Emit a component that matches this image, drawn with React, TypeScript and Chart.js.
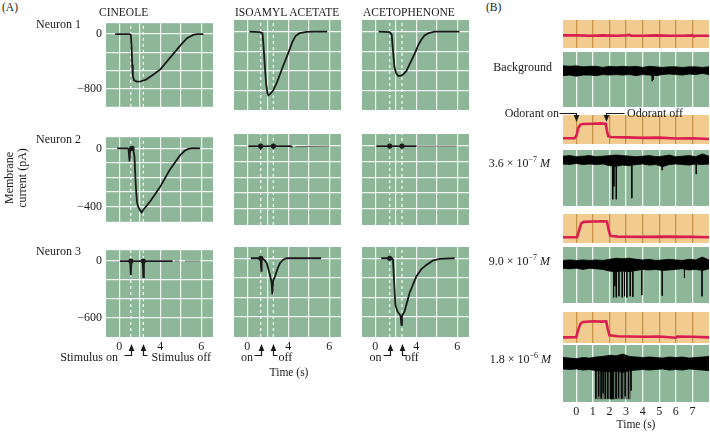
import React, { useEffect, useRef } from "react";
import { Chart, registerables } from "chart.js";

Chart.register(...registerables);

const FONT = "'Liberation Serif', 'Times New Roman', serif";
const GREEN = "#8eb799";
const ORANGE = "#f2cb91";
const RED = "#d81f50";
const INK = "#1a1a1a";
const GRID_W = "rgba(255,255,255,0.85)";
const GRID_O = "#c9944a";

// ---------------- Panel A data (x in grid units, y in pA) ----------------
const ODORANTS = ["CINEOLE", "ISOAMYL ACETATE", "ACETOPHENONE"];
const NEURONS = ["Neuron 1", "Neuron 2", "Neuron 3"];
const A_X_GRID = [0, 1, 2, 3, 4];
const A_X_LABELS = ["0", "", "4", "", "6"];
const A_X_MIN = -0.65;
const A_X_MAX = 4.57;
const A_Y_GRID_N1 = [-800, -533.3, -266.7, 0];
const A_Y_LABELS_N1 = ["−800", "", "", "0"];
const A_Y_GRID_N2 = [-400, -300, -200, -100, 0];
const A_Y_LABELS_N2 = ["−400", "", "", "", "0"];
const A_Y_GRID_N3 = [-600, -400, -200, 0];
const A_Y_LABELS_N3 = ["−600", "", "", "0"];
const A_Y_RANGE = [
  [-1070, 160],
  [-505, 77],
  [-805, 115],
];
const STIM_ON = [0.56, 0.65, 0.7];
const STIM_OFF = [1.17, 1.27, 1.3];

type P = [number, number | null];

const CIN_N1: P[] = [[-0.2, 0], [0.5, 0], [0.56, -10], [0.6, -200], [0.63, -450], [0.66, -620], [0.72, -680], [0.85, -700], [1.05, -695], [1.3, -670], [1.6, -610], [2.0, -520], [2.5, -340], [3.0, -160], [3.3, -60], [3.6, -12], [3.8, 0], [4.1, 0]];
const ISO_N1: P[] = [[0.1, 0], [0.6, -5], [0.74, -20], [0.78, -150], [0.85, -450], [0.92, -720], [0.98, -840], [1.03, -870], [1.12, -850], [1.27, -800], [1.45, -690], [1.68, -516], [2.0, -290], [2.2, -140], [2.35, -60], [2.55, -20], [2.9, -3], [3.3, 0], [3.9, 0]];
const ACE_N1: P[] = [[0.16, 0], [0.7, -5], [0.8, -40], [0.86, -250], [0.93, -480], [1.02, -570], [1.12, -605], [1.25, -600], [1.35, -585], [1.51, -540], [1.7, -430], [1.92, -300], [2.1, -180], [2.24, -110], [2.4, -50], [2.6, -20], [2.9, 0], [4.1, 0]];
const CIN_N2: P[] = [[-0.1, 0], [0.4, 0], [0.45, -5], [0.5, -90], [0.53, 0], [0.6, -8], [0.68, -5], [0.74, -60], [0.8, -250], [0.86, -370], [0.93, -405], [1.03, -430], [1.09, -440], [1.15, -425], [1.3, -400], [1.5, -365], [2.0, -262], [2.47, -145], [2.96, -48], [3.2, -15], [3.37, -3], [3.6, 2], [3.94, 0]];
const ISO_N2: P[] = [[0.05, 0], [0.6, 0], [0.65, -15], [0.7, 0], [1.22, 0], [1.27, -12], [1.32, 0], [2.1, 0], [2.2, -5]];
const ACE_N2: P[] = [[0.05, 0], [0.7, 0], [1.3, 0], [2.0, 0]];
const CIN_N3: P[] = [[0.03, 0], [0.53, 0], [0.56, -150], [0.59, 0], [1.14, 0], [1.17, -170], [1.2, 0], [2.6, 0]];
const ISO_N3: P[] = [[0.17, 0], [0.6, 0], [0.65, -5], [0.68, -130], [0.7, -5], [0.8, -10], [0.95, -50], [1.1, -170], [1.18, -240], [1.22, -370], [1.26, -230], [1.35, -185], [1.47, -110], [1.59, -50], [1.75, -15], [1.91, 0], [3.6, 0]];
const ACE_N3: P[] = [[0.29, 0], [0.8, 0], [0.86, -15], [0.92, -250], [0.98, -480], [1.08, -545], [1.19, -575], [1.24, -600], [1.27, -680], [1.3, -590], [1.43, -540], [1.67, -355], [2.0, -187], [2.25, -110], [2.49, -68], [2.8, -25], [3.14, -7], [3.87, 0]];

const ISO_N2_FAINT: P[] = [[2.35, -5], [3.0, -2], [4.0, 0]];
const ACE_N2_FAINT: P[] = [[2.0, 0], [3.96, 0]];
const CIN_N3_FAINT: P[] = [[2.7, 0], [2.92, 0], [2.93, null], [3.2, 0], [3.94, 0]];

const CIN_N2_BLOBS: P[] = [[0.62, 0]];
const ISO_N2_BLOBS: P[] = [[0.65, 0], [1.27, 0]];
const ACE_N2_BLOBS: P[] = [[0.7, 0], [1.3, 0]];
const CIN_N3_BLOBS: P[] = [[0.56, 0], [1.17, 0]];
const ISO_N3_BLOBS: P[] = [[0.66, 0]];
const ACE_N3_BLOBS: P[] = [[0.7, 0]];

const A_TRACES = [[CIN_N1, ISO_N1, ACE_N1], [CIN_N2, ISO_N2, ACE_N2], [CIN_N3, ISO_N3, ACE_N3]];
const A_FAINT = [[[], [], []], [[], ISO_N2_FAINT, ACE_N2_FAINT], [CIN_N3_FAINT, [], []]];
const A_BLOBS = [[[], [], []], [CIN_N2_BLOBS, ISO_N2_BLOBS, ACE_N2_BLOBS], [CIN_N3_BLOBS, ISO_N3_BLOBS, ACE_N3_BLOBS]];
const A_Y_GRIDS = [A_Y_GRID_N1, A_Y_GRID_N2, A_Y_GRID_N3];
const A_Y_LABELS = [A_Y_LABELS_N1, A_Y_LABELS_N2, A_Y_LABELS_N3];

// ---------------- Panel B data (x in s, y in relative units 0..1) ----------------
const B_X_GRID = [0, 1, 2, 3, 4, 5, 6, 7];
const B_X_LABELS = ["0", "1", "2", "3", "4", "5", "6", "7"];
const B_X_MIN = -0.8;
const B_X_MAX = 8.0;
const ODOR_ON = 0;
const ODOR_OFF = 1.8;
const CONCENTRATIONS = ["Background", "3.6", "9.0", "1.8"];

const RED_NONE: P[] = [[-0.8, 0.45], [0, 0.45], [0.8, 0.44], [1.6, 0.45], [2.4, 0.44], [3.0, 0.45], [3.2, 0.47], [3.3, 0.44], [4.0, 0.44], [4.8, 0.45], [5.6, 0.44], [6.4, 0.44], [7.0, 0.45], [7.1, 0.42], [7.2, 0.44], [8.0, 0.44]];
const RED_36: P[] = [[-0.8, 0.2], [-0.1, 0.2], [0.02, 0.3], [0.12, 0.55], [0.25, 0.67], [0.4, 0.69], [1.0, 0.7], [1.5, 0.71], [1.78, 0.69], [1.85, 0.45], [1.93, 0.27], [2.1, 0.24], [3.0, 0.23], [4.0, 0.21], [5.0, 0.22], [6.0, 0.19], [7.0, 0.2], [8.0, 0.17]];
const RED_90: P[] = [[-0.8, 0.2], [0.05, 0.2], [0.15, 0.4], [0.3, 0.68], [0.45, 0.73], [1.0, 0.74], [1.6, 0.75], [1.85, 0.74], [1.95, 0.45], [2.05, 0.25], [2.5, 0.22], [4.0, 0.21], [5.5, 0.22], [7.0, 0.21], [8.0, 0.2]];
const RED_18: P[] = [[-0.8, 0.18], [0.0, 0.19], [0.1, 0.4], [0.25, 0.62], [0.4, 0.68], [1.0, 0.7], [1.5, 0.69], [1.8, 0.7], [1.9, 0.45], [2.0, 0.25], [2.5, 0.22], [4.0, 0.2], [5.0, 0.21], [6.0, 0.17], [6.1, 0.21], [7.0, 0.2], [8.0, 0.18]];

const BAND_T = [-0.8, -0.4, 0, 0.4, 0.8, 1.2, 1.6, 2.0, 2.4, 2.8, 3.2, 3.6, 4.0, 4.4, 4.8, 5.2, 5.6, 6.0, 6.4, 6.8, 7.2, 7.6, 8.0];
const BG_UP = [0.75, 0.74, 0.75, 0.73, 0.74, 0.74, 0.72, 0.74, 0.73, 0.74, 0.73, 0.74, 0.72, 0.74, 0.73, 0.72, 0.73, 0.73, 0.72, 0.73, 0.73, 0.72, 0.73];
const BG_LO = [0.57, 0.58, 0.56, 0.58, 0.58, 0.57, 0.59, 0.58, 0.59, 0.58, 0.59, 0.57, 0.59, 0.58, 0.57, 0.59, 0.6, 0.59, 0.58, 0.6, 0.59, 0.61, 0.59];
const S36_UP = [0.89, 0.9, 0.88, 0.89, 0.9, 0.88, 0.89, 0.9, 0.91, 0.9, 0.89, 0.88, 0.89, 0.9, 0.88, 0.89, 0.91, 0.88, 0.89, 0.9, 0.88, 0.93, 0.89];
const S36_LO = [0.75, 0.74, 0.76, 0.74, 0.75, 0.74, 0.75, 0.72, 0.71, 0.73, 0.72, 0.74, 0.75, 0.73, 0.74, 0.7, 0.74, 0.75, 0.74, 0.73, 0.75, 0.74, 0.75];
const S90_UP = [0.76, 0.77, 0.76, 0.77, 0.76, 0.77, 0.76, 0.78, 0.8, 0.79, 0.8, 0.78, 0.77, 0.78, 0.76, 0.77, 0.78, 0.77, 0.76, 0.78, 0.77, 0.82, 0.77];
const S90_LO = [0.62, 0.61, 0.62, 0.6, 0.62, 0.61, 0.6, 0.57, 0.56, 0.57, 0.56, 0.58, 0.6, 0.59, 0.6, 0.58, 0.59, 0.6, 0.61, 0.59, 0.6, 0.58, 0.61];
const S18_UP = [0.78, 0.77, 0.76, 0.78, 0.77, 0.79, 0.8, 0.82, 0.81, 0.84, 0.8, 0.79, 0.78, 0.79, 0.78, 0.77, 0.79, 0.78, 0.79, 0.77, 0.78, 0.79, 0.8];
const S18_LO = [0.58, 0.57, 0.58, 0.56, 0.57, 0.55, 0.54, 0.53, 0.54, 0.52, 0.55, 0.56, 0.57, 0.56, 0.57, 0.58, 0.56, 0.57, 0.56, 0.58, 0.57, 0.56, 0.55];

const BG_SPIKES: P[] = [[4.58, 0.47], [4.63, 0.5]];
const S36_SPIKES: P[] = [[2.2, 0.12], [2.27, 0.35], [2.41, 0.12], [3.35, 0.14], [5.18, 0.64], [7.23, 0.57]];
const S90_SPIKES: P[] = [[2.25, 0.1], [2.33, 0.3], [2.41, 0.1], [2.57, 0.12], [2.77, 0.1], [2.91, 0.12], [3.05, 0.1], [3.25, 0.12], [3.41, 0.11], [3.95, 0.14], [5.18, 0.13], [6.52, 0.45], [7.58, 0.12]];
const S18_SPIKES: P[] = [[1.18, 0.06], [1.35, 0.1], [1.5, 0.06], [1.62, 0.15], [1.75, 0.06], [1.9, 0.06], [2.4, 0.06], [2.55, 0.08], [2.75, 0.06], [2.95, 0.1], [3.15, 0.06], [3.3, 0.2]];
const S18_BURST = [1.15, 3.3];
const S18_BLOCK = [2.0, 2.27];
const S18_BURST_BOTTOM = 0.05;

const B_RED = [RED_NONE, RED_36, RED_90, RED_18];
const B_UP = [BG_UP, S36_UP, S90_UP, S18_UP];
const B_LO = [BG_LO, S36_LO, S90_LO, S18_LO];
const B_SPIKES = [BG_SPIKES, S36_SPIKES, S90_SPIKES, S18_SPIKES];

// ---------------- Layout ----------------
const PAD = 8;
const A_COL_X = [106, 234, 362];
const A_PLOT_W = 107;
const A_ROW_Y = [20, 134, 247];
const A_PLOT_H = [90, 91, 90];
const B_X = 563;
const B_W = 146;
const B_ORANGE = [
  { top: 20, h: 28 },
  { top: 115, h: 29 },
  { top: 214, h: 29 },
  { top: 312, h: 31 },
];
const B_GREEN = [
  { top: 52, h: 55 },
  { top: 150, h: 56 },
  { top: 247, h: 56 },
  { top: 345, h: 57 },
];

const toXY = (a: P[]) => a.map(([x, y]) => ({ x, y }));

const bgPlugin = (color: string) => ({
  id: "plotBg",
  beforeDraw(chart: any) {
    const { ctx, chartArea: a } = chart;
    ctx.save();
    ctx.fillStyle = color;
    ctx.fillRect(a.left, a.top, a.right - a.left, a.bottom - a.top);
    ctx.restore();
  },
});

function arrowHead(ctx: CanvasRenderingContext2D, x: number, tipY: number, dir: number) {
  // dir = -1: points up, 1: points down
  ctx.beginPath();
  ctx.moveTo(x, tipY);
  ctx.lineTo(x - 2.8, tipY - dir * 7);
  ctx.lineTo(x + 2.8, tipY - dir * 7);
  ctx.closePath();
  ctx.fill();
}

const stimArrows = (on: number, off: number) => ({
  id: "stimArrows",
  afterDraw(chart: any) {
    const { ctx, chartArea: a, scales } = chart;
    const x = scales.x;
    ctx.save();
    ctx.strokeStyle = INK;
    ctx.fillStyle = INK;
    ctx.lineWidth = 1.2;
    const draw = (t: number, dir: number, len: number) => {
      const px = Math.round(x.getPixelForValue(t)) + 0.5;
      const tip = a.bottom + 7;
      const base = a.bottom + 18.5;
      ctx.beginPath();
      ctx.moveTo(px, tip + 5);
      ctx.lineTo(px, base);
      ctx.lineTo(px + dir * len, base);
      ctx.stroke();
      arrowHead(ctx, px, tip, -1);
    };
    draw(on, -1, 7);
    draw(off, 1, 4);
    ctx.restore();
  },
});

const odorArrows = () => ({
  id: "odorArrows",
  afterDraw(chart: any) {
    const { ctx, chartArea: a, scales } = chart;
    const x = scales.x;
    ctx.save();
    ctx.strokeStyle = INK;
    ctx.fillStyle = INK;
    ctx.lineWidth = 1.1;
    const draw = (t: number, dx: number) => {
      const px = Math.round(x.getPixelForValue(t)) + 0.5;
      const y0 = a.top - 1.5;
      const tip = a.top + 7;
      ctx.beginPath();
      ctx.moveTo(px + dx, y0);
      ctx.lineTo(px, y0);
      ctx.lineTo(px, tip - 4);
      ctx.stroke();
      arrowHead(ctx, px, tip, 1);
    };
    draw(ODOR_ON, -17);
    draw(ODOR_OFF, 18);
    ctx.restore();
  },
});

const baseOptions = {
  animation: false as const,
  responsive: false,
  devicePixelRatio: 1,
  events: [] as any[],
  plugins: { legend: { display: false }, tooltip: { enabled: false } },
  elements: { point: { radius: 0 }, line: { tension: 0 } },
};

function aSpec(row: number, col: number) {
  const axisW = col === 0 ? 36 : 0;
  const axisH = row === 2 ? 32 : 0;
  const h = A_PLOT_H[row];
  const [ymin, ymax] = A_Y_RANGE[row];
  const on = STIM_ON[col];
  const off = STIM_OFF[col];
  const datasets: any[] = [
    {
      data: toXY(A_TRACES[row][col]),
      borderColor: INK,
      borderWidth: 1.8,
      pointRadius: 0,
      spanGaps: false,
      order: 0,
    },
  ];
  if (A_FAINT[row][col].length) {
    datasets.push({
      data: toXY(A_FAINT[row][col] as P[]),
      borderColor: "rgba(30,30,30,0.55)",
      borderWidth: 1.1,
      pointRadius: 0,
      spanGaps: false,
      order: 1,
    });
  }
  if (A_BLOBS[row][col].length) {
    datasets.push({
      data: toXY(A_BLOBS[row][col] as P[]),
      showLine: false,
      pointRadius: 2.6,
      pointBackgroundColor: INK,
      pointBorderWidth: 0,
      order: 0,
    });
  }
  for (const t of [on, off]) {
    datasets.push({
      data: [
        { x: t, y: ymin },
        { x: t, y: ymax },
      ],
      borderColor: "rgba(255,255,255,0.95)",
      borderWidth: 1.2,
      borderDash: [3, 3],
      pointRadius: 0,
      order: 10,
    });
  }
  const config: any = {
    type: "line",
    data: { datasets },
    options: {
      ...baseOptions,
      layout: { padding: PAD },
      scales: {
        x: {
          type: "linear",
          min: A_X_MIN,
          max: A_X_MAX,
          afterBuildTicks: (s: any) => {
            s.ticks = A_X_GRID.map((v) => ({ value: v }));
          },
          afterFit: (s: any) => {
            s.height = axisH;
          },
          grid: { color: GRID_W, lineWidth: 1.2, drawTicks: false },
          border: { display: false },
          ticks: {
            display: row === 2,
            autoSkip: false,
            maxRotation: 0,
            padding: 3,
            color: INK,
            font: { family: FONT, size: 12 },
            callback: (_v: any, i: number) => A_X_LABELS[i],
          },
        },
        y: {
          type: "linear",
          min: ymin,
          max: ymax,
          afterBuildTicks: (s: any) => {
            s.ticks = A_Y_GRIDS[row].map((v) => ({ value: v }));
          },
          afterFit: (s: any) => {
            s.width = axisW;
          },
          grid: { color: GRID_W, lineWidth: 1.2, drawTicks: false },
          border: { display: false },
          ticks: {
            display: col === 0,
            autoSkip: false,
            padding: 4,
            color: INK,
            font: { family: FONT, size: 12 },
            callback: (_v: any, i: number) => A_Y_LABELS[row][i],
          },
        },
      },
    },
    plugins: [bgPlugin(GREEN), ...(row === 2 ? [stimArrows(on, off)] : [])],
  };
  return {
    left: A_COL_X[col] - PAD - axisW,
    top: A_ROW_Y[row] - PAD,
    width: PAD + axisW + A_PLOT_W + PAD,
    height: PAD + h + axisH + PAD,
    config,
  };
}

function bXScale(gridColor: string, showLabels: boolean) {
  return {
    type: "linear",
    min: B_X_MIN,
    max: B_X_MAX,
    afterBuildTicks: (s: any) => {
      s.ticks = B_X_GRID.map((v) => ({ value: v }));
    },
    afterFit: (s: any) => {
      s.height = showLabels ? 20 : 0;
    },
    grid: { color: gridColor, lineWidth: 1.3, drawTicks: false },
    border: { display: false },
    ticks: {
      display: showLabels,
      autoSkip: false,
      maxRotation: 0,
      padding: 3,
      color: INK,
      font: { family: FONT, size: 12 },
      callback: (_v: any, i: number) => B_X_LABELS[i],
    },
  };
}

function bOrangeSpec(i: number) {
  const g = B_ORANGE[i];
  const config: any = {
    type: "line",
    data: {
      datasets: [
        {
          data: toXY(B_RED[i]),
          borderColor: RED,
          borderWidth: 2.6,
          pointRadius: 0,
        },
      ],
    },
    options: {
      ...baseOptions,
      layout: { padding: PAD },
      scales: {
        x: bXScale(GRID_O, false),
        y: { display: false, min: 0, max: 1 },
      },
    },
    plugins: [bgPlugin(ORANGE), ...(i === 1 ? [odorArrows()] : [])],
  };
  return { left: B_X - PAD, top: g.top - PAD, width: PAD + B_W + PAD, height: PAD + g.h + PAD, config };
}

function bGreenSpec(i: number) {
  const g = B_GREEN[i];
  const last = i === B_GREEN.length - 1;
  const lo = B_LO[i];
  const spikeTop = lo.reduce((s, v) => s + v, 0) / lo.length + 0.04;
  const spikeData: any[] = [];
  for (const [t, b] of B_SPIKES[i]) {
    spikeData.push({ x: t, y: spikeTop }, { x: t, y: b }, { x: t, y: null });
  }
  const datasets: any[] = [
    {
      data: BAND_T.map((t, k) => ({ x: t, y: B_UP[i][k] })),
      borderColor: "#000",
      borderWidth: 0.8,
      pointRadius: 0,
      order: 1,
    },
    {
      data: BAND_T.map((t, k) => ({ x: t, y: lo[k] })),
      borderColor: "#000",
      borderWidth: 0.8,
      backgroundColor: "#000",
      fill: "-1",
      pointRadius: 0,
      order: 1,
    },
    {
      data: spikeData,
      borderColor: "rgba(0,0,0,0.85)",
      borderWidth: 1,
      pointRadius: 0,
      spanGaps: false,
      order: 0,
    },
  ];
  if (i === 3) {
    datasets.push(
      {
        data: S18_BURST.map((t) => ({ x: t, y: S18_BURST_BOTTOM })),
        borderWidth: 0,
        backgroundColor: "rgba(45,45,45,0.5)",
        fill: { value: spikeTop },
        pointRadius: 0,
        order: 2,
      },
      {
        data: S18_BLOCK.map((t) => ({ x: t, y: S18_BURST_BOTTOM })),
        borderWidth: 0,
        backgroundColor: "#050505",
        fill: { value: spikeTop },
        pointRadius: 0,
        order: 0,
      }
    );
  }
  const config: any = {
    type: "line",
    data: { datasets },
    options: {
      ...baseOptions,
      layout: { padding: PAD },
      scales: {
        x: bXScale(GRID_W, last),
        y: { display: false, min: 0, max: 1 },
      },
    },
    plugins: [bgPlugin(GREEN)],
  };
  return {
    left: B_X - PAD,
    top: g.top - PAD,
    width: PAD + B_W + PAD,
    height: PAD + g.h + (last ? 20 : 0) + PAD,
    config,
  };
}

function MiniChart({ spec }: { spec: any }) {
  const ref = useRef<HTMLCanvasElement>(null);
  useEffect(() => {
    const chart = new Chart(ref.current as HTMLCanvasElement, spec.config);
    return () => chart.destroy();
  }, []);
  return (
    <canvas
      ref={ref}
      width={spec.width}
      height={spec.height}
      style={{ position: "absolute", left: spec.left, top: spec.top, width: spec.width, height: spec.height }}
    />
  );
}

function Txt({
  x,
  y,
  align = "left",
  size = 12,
  children,
  style = {},
}: {
  x: number;
  y: number;
  align?: "left" | "right" | "center";
  size?: number;
  children: any;
  style?: any;
}) {
  const s: any = {
    position: "absolute",
    top: y,
    whiteSpace: "nowrap",
    fontSize: size,
    lineHeight: 1,
    color: INK,
    transform: "translateY(-50%)",
    ...style,
  };
  if (align === "left") s.left = x;
  else if (align === "right") s.right = 710 - x;
  else {
    s.left = x;
    s.transform = "translate(-50%, -50%)";
  }
  return <div style={s}>{children}</div>;
}

function Conc({ mant, exp }: { mant: string; exp: string }) {
  return (
    <span>
      {mant} × 10
      <span style={{ fontSize: 8, position: "relative", top: -5 }}>{exp}</span> <i>M</i>
    </span>
  );
}

export default function App() {
  const aSpecs: any[] = [];
  for (let r = 0; r < 3; r++) for (let c = 0; c < 3; c++) aSpecs.push(aSpec(r, c));
  const bSpecs: any[] = [];
  for (let i = 0; i < 4; i++) {
    bSpecs.push(bOrangeSpec(i));
    bSpecs.push(bGreenSpec(i));
  }
  const titleX = [99, 235, 363];
  const neuronY = [24, 139, 251];
  const concY = [66.7, 162.7, 260.7, 359.3];
  return (
    <div
      style={{
        position: "absolute",
        left: 0,
        top: 0,
        width: 710,
        height: 442,
        overflow: "hidden",
        background: "#fff",
        fontFamily: FONT,
        color: INK,
      }}
    >
      {aSpecs.map((s, k) => (
        <MiniChart key={"a" + k} spec={s} />
      ))}
      {bSpecs.map((s, k) => (
        <MiniChart key={"b" + k} spec={s} />
      ))}

      <Txt x={2} y={8} size={11.5}>(A)</Txt>
      <Txt x={486} y={8} size={11.5}>(B)</Txt>
      {ODORANTS.map((o, k) => (
        <Txt key={o} x={titleX[k]} y={13} size={11.5}>
          {o}
        </Txt>
      ))}
      {NEURONS.map((n, k) => (
        <Txt key={n} x={36} y={neuronY[k]}>
          {n}
        </Txt>
      ))}
      <div
        style={{
          position: "absolute",
          left: 16,
          top: 178,
          transform: "translate(-50%, -50%) rotate(-90deg)",
          fontSize: 12,
          lineHeight: "13px",
          textAlign: "center",
          whiteSpace: "nowrap",
          color: INK,
        }}
      >
        Membrane
        <br />
        current (pA)
      </div>
      <Txt x={118} y={357} align="right">Stimulus on</Txt>
      <Txt x={151.5} y={357}>Stimulus off</Txt>
      <Txt x={253} y={357} align="right">on</Txt>
      <Txt x={278.5} y={357}>off</Txt>
      <Txt x={381.5} y={357} align="right">on</Txt>
      <Txt x={405} y={357}>off</Txt>
      <Txt x={289} y={373} align="center" size={11.5}>Time (s)</Txt>

      <Txt x={552} y={concY[0]} align="right">{CONCENTRATIONS[0]}</Txt>
      <Txt x={550} y={concY[1]} align="right"><Conc mant={CONCENTRATIONS[1]} exp="−7" /></Txt>
      <Txt x={550} y={concY[2]} align="right"><Conc mant={CONCENTRATIONS[2]} exp="−7" /></Txt>
      <Txt x={551} y={concY[3]} align="right"><Conc mant={CONCENTRATIONS[3]} exp="−6" /></Txt>
      <Txt x={559} y={113.3} align="right">Odorant on</Txt>
      <Txt x={627} y={113.3}>Odorant off</Txt>
      <Txt x={636} y={425} align="center" size={11.5}>Time (s)</Txt>
    </div>
  );
}
